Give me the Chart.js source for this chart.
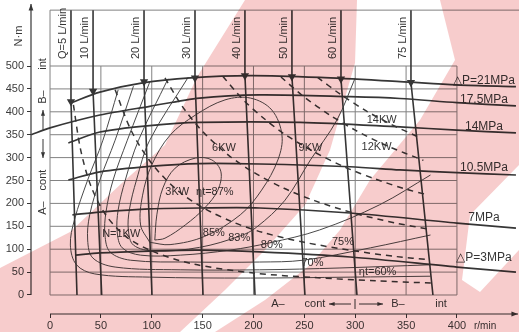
<!DOCTYPE html>
<html>
<head>
<meta charset="utf-8">
<title>Motor performance</title>
<script src="https://cdn.jsdelivr.net/npm/chart.js@4.4.1/dist/chart.umd.min.js"></script>
<style>
  html, body { margin: 0; padding: 0; background: #fff; }
</style>
</head>
<body>
<canvas id="perfChart" width="519" height="332"></canvas>
<script>
// axis ticks
const speedTicks = [0, 50, 100, 150, 200, 250, 300, 350, 400];
const torqueTicks = [0, 50, 100, 150, 200, 250, 300, 350, 400, 450, 500];

// pressure drop curves: [speed r/min, torque N·m]
const pressureNames = ['△P=21MPa', '17.5MPa', '14MPa', '10.5MPa', '7MPa', '△P=3MPa'];
const dp21 = [[20,419],[49,443],[91,463],[138,474],[197,479],[265,475],[344,466],[400,459],[458,455]];
const dp17_5 = [[-18.5,350],[0,365],[49,393],[98,412],[147,430],[206,437],[295,433],[344,429],[400,420],[458,413]];
const dp14 = [[18,332],[49,356],[98,370],[147,377],[246,377],[344,367],[400,360],[458,354]];
const dp10_5 = [[18,251],[49,269],[98,281],[147,287],[206,286],[295,280],[344,273],[400,267],[458,262]];
const dp7 = [[22,175],[49,181],[98,188],[147,190],[206,190],[295,179],[400,157],[458,146]];
const dp3 = [[25,87],[49,92],[98,96],[147,98],[206,94],[295,83],[400,61],[458,50]];

// flow lines
const flowNames = ['Q=5 L/min', '10 L/min', '20 L/min', '30 L/min', '40 L/min', '50 L/min', '60 L/min', '75 L/min'];
const flowTopSpeed = [20.6, 42.3, 92.4, 142.5, 191.6, 237.8, 286, 354.8];
const flowArrowTorque = [422, 445, 466, 474, 479, 477, 472, 464];
const flowBottomSpeed = [26.5, 50.8, 100.2, 150.4, 201.5, 250.6, 301.7, 376.4];

// output power (dashed)
const kw1 = [[23,415],[30,318],[40,239],[55,174],[75,127],[100,96],[140,68],[200,48],[260,38],[320,31],[375,26]];
const kw3 = [[64,448],[80,358],[100,287],[125,229],[150,191],[180,159],[210,136],[250,115],[300,96],[340,84],[373,77]];
const kw6 = [[113,474],[130,412],[150,357],[175,306],[200,268],[230,233],[260,206],[300,178],[340,157],[372,144]];
const kw9 = [[170,477],[190,426],[210,386],[230,352],[260,312],[290,279],[320,253],[350,231],[369,220]];
const kw12 = [[227,476],[250,432],[275,393],[300,360],[330,327],[367,294]];
const kw14 = [[263,475],[285,439],[310,403],[335,373],[362,345]];

// total efficiency contours
const eff60 = [[67,448],[52,338],[37,251],[24,164],[20,109],[26,66],[44,46],[98,39],[197,37],[295,39],[374,41]];
const eff70 = [[82,456],[64,338],[49,251],[39,175],[37,120],[42,81],[64,61],[128,55],[206,55],[285,59],[374,66]];
const eff75 = [[98,465],[76,338],[62,251],[55,181],[54,131],[59,94],[79,76],[138,72],[206,72],[249,76],[315,103],[374,131]];
const eff80 = [[116,472],[87,338],[74,251],[67,186],[66,138],[71,103],[89,87],[128,87],[177,98],[216,114],[265,142],[324,197],[374,262]];
const eff83 = [[136,476],[98,338],[85,251],[78,186],[77,142],[82,109],[103,96],[147,104],[187,129],[203,148],[231,207],[256,295],[282,382],[300,474]];
const eff85 = [[98,115],[89,153],[91,218],[100,284],[118,349],[143,393],[172,426],[197,430],[218,404],[228,349],[224,295],[208,229],[187,175],[152,128],[118,110],[98,115]];
const eff87 = [[103,120],[105,175],[111,234],[123,277],[143,299],[159,295],[168,269],[165,229],[152,190],[133,153],[113,124],[103,120]];

// text labels on the map: [text, speed, torque]
const effLabels = [['ηt=87%',162,225],['85%',161,135],['83%',186,124],['80%',218,109],['75%',288,116],['70%',258,70],['ηt=60%',322,50]];
const powerLabels = [['N=1KW',70,133],['3KW',125,225],['6KW',171,321],['9KW',256,321],['12KW',321,323],['14KW',326,382]];
const pressureLabelTorque = [469, 426, 367, 279, 168, 81];

const ink = '#363636';
const frameTop = 622, frameRight = 461;

// watermark shapes (canvas pixels), drawn as a tint
const watermark = [
  [[0,268],[70,232],[123,182],[165,145],[197,77],[245,0],[357,0],[355,63],[330,150],[305,205],[265,250],[225,290],[180,332],[0,332]],
  [[440,0],[519,0],[519,165],[470,215],[462,280],[480,292],[519,250],[519,332],[215,332],[265,300],[310,265],[340,230],[370,180],[420,120],[455,60]]
];

function pts(arr) { return arr.map(([x, y]) => ({ x, y })); }

function curve(arr, style) {
  return Object.assign({
    data: pts(arr), borderColor: ink, borderWidth: 1.5, pointRadius: 0,
    tension: 0.3, fill: false, clip: false
  }, style);
}

const datasets = [];

[dp21, dp17_5, dp14, dp10_5, dp7, dp3].forEach(c => datasets.push(curve(c, { borderWidth: 1.7 })));

flowTopSpeed.forEach((s, i) => {
  datasets.push(curve([[s, frameTop], [s, flowArrowTorque[i]], [flowBottomSpeed[i], 0]], {
    tension: 0, borderWidth: 1.6,
    pointStyle: 'triangle', pointRotation: 180,
    pointRadius: c => (c.dataIndex === 1 ? 3.2 : 0),
    pointBackgroundColor: ink, pointBorderColor: ink
  }));
});

[kw1, kw3, kw6, kw9, kw12, kw14].forEach(c => datasets.push(curve(c, { borderDash: [6, 5], borderWidth: 1.5 })));

[eff60, eff70, eff75, eff80, eff83, eff85, eff87].forEach(c => datasets.push(curve(c, { borderWidth: 1, borderColor: '#4a4a4a', tension: 0.35 })));

// grid + frame
const gridStyle = { borderColor: '#828282', borderWidth: 1, tension: 0, order: 10 };
torqueTicks.forEach(t => datasets.push(curve([[0, t], [400, t]], gridStyle)));
speedTicks.slice(1).forEach(s => datasets.push(curve([[s, 0], [s, 500]], gridStyle)));
datasets.push(curve([[0, 0], [0, frameTop]], gridStyle));
datasets.push(curve([[0, frameTop], [frameRight, frameTop]], gridStyle));

function rotText(ctx, text, x, y, align) {
  ctx.save();
  ctx.translate(x, y);
  ctx.rotate(-Math.PI / 2);
  ctx.textAlign = align || 'center';
  ctx.fillText(text, 0, 0);
  ctx.restore();
}

function arrow(ctx, x1, y1, x2, y2, size) {
  ctx.beginPath(); ctx.moveTo(x1, y1); ctx.lineTo(x2, y2); ctx.stroke();
  const a = Math.atan2(y2 - y1, x2 - x1);
  ctx.beginPath();
  ctx.moveTo(x2, y2);
  ctx.lineTo(x2 - size * Math.cos(a - 0.35), y2 - size * Math.sin(a - 0.35));
  ctx.lineTo(x2 - size * Math.cos(a + 0.35), y2 - size * Math.sin(a + 0.35));
  ctx.closePath(); ctx.fill();
}

const decor = {
  id: 'decor',
  beforeDraw(chart) {
    const ctx = chart.ctx;
    ctx.save(); ctx.fillStyle = '#fff'; ctx.fillRect(0, 0, chart.width, chart.height); ctx.restore();
  },
  afterDatasetsDraw(chart) {
    const { ctx, chartArea, scales: { x, y } } = chart;
    const X = v => x.getPixelForValue(v), Y = v => y.getPixelForValue(v);
    ctx.save();
    ctx.fillStyle = ink; ctx.strokeStyle = ink; ctx.lineWidth = 1.2;
    ctx.textBaseline = 'middle';

    // offset axes with arrows
    arrow(ctx, chartArea.left, Y(0), chartArea.left, 4, 7);
    arrow(ctx, X(0), chartArea.bottom, chart.width - 1, chartArea.bottom, 7);

    ctx.font = '11px "Liberation Sans", Arial, sans-serif';
    rotText(ctx, 'N·m', 19, 36);
    ctx.textAlign = 'left';
    ctx.font = '10px "Liberation Sans", Arial, sans-serif';
    ctx.fillText('r/min', 474, chartArea.bottom + 12);

    // flow labels
    ctx.font = '11px "Liberation Sans", Arial, sans-serif';
    flowNames.forEach((n, i) => rotText(ctx, n, X(flowTopSpeed[i]) - 8, Y(500) - 7, 'left'));

    // pressure labels
    ctx.font = '12px "Liberation Sans", Arial, sans-serif';
    ctx.textAlign = 'center';
    pressureNames.forEach((n, i) => ctx.fillText(n, 484, Y(pressureLabelTorque[i])));

    // efficiency & power labels
    ctx.font = '11px "Liberation Sans", Arial, sans-serif';
    effLabels.concat(powerLabels).forEach(([t, s, q]) => ctx.fillText(t, X(s), Y(q)));

    // operating ranges, bottom
    const by = chartArea.bottom - 10;
    ctx.fillText('A–', 278, by);
    ctx.fillText('cont', 315, by);
    ctx.fillText('B–', 398, by);
    ctx.fillText('int', 441, by);
    ctx.lineWidth = 1;
    arrow(ctx, 351, by, 329, by, 6);
    arrow(ctx, 359, by, 383, by, 6);
    ctx.beginPath(); ctx.moveTo(355, by - 5); ctx.lineTo(355, by + 5); ctx.stroke();

    // operating ranges, left side
    const lx = 43;
    rotText(ctx, 'int', lx, 64);
    rotText(ctx, 'B–', lx, 97);
    rotText(ctx, 'cont', lx, 180);
    rotText(ctx, 'A–', lx, 208);
    arrow(ctx, lx, 131, lx, 110, 6);
    arrow(ctx, lx, 139, lx, 158, 6);
    ctx.restore();
  },
  afterDraw(chart) {
    const ctx = chart.ctx;
    ctx.save();
    ctx.globalCompositeOperation = 'multiply';
    ctx.fillStyle = 'rgb(247,204,204)';
    watermark.forEach(poly => {
      ctx.beginPath();
      poly.forEach(([a, b], i) => (i ? ctx.lineTo(a, b) : ctx.moveTo(a, b)));
      ctx.closePath();
      ctx.fill();
    });
    ctx.restore();
  }
};

new Chart(document.getElementById('perfChart'), {
  type: 'line',
  data: { datasets },
  options: {
    responsive: false,
    animation: false,
    events: [],
    layout: { padding: { top: 10, right: 0, bottom: 0, left: 0 } },
    plugins: { legend: { display: false }, tooltip: { enabled: false } },
    scales: {
      x: {
        type: 'linear', min: -18.7, max: 461,
        afterBuildTicks: s => { s.ticks = speedTicks.map(v => ({ value: v })); },
        afterFit: s => { s.height = 18; },
        border: { display: false },
        grid: { drawOnChartArea: false, drawTicks: true, tickLength: 4, color: ink },
        ticks: { padding: 1, color: '#3c3c3c', font: { size: 11, family: '"Liberation Sans", Arial, sans-serif' } }
      },
      y: {
        type: 'linear', min: -41.5, max: 622.3,
        afterBuildTicks: s => { s.ticks = torqueTicks.map(v => ({ value: v })); },
        afterFit: s => { s.width = 31; },
        border: { display: false },
        grid: { drawOnChartArea: false, drawTicks: true, tickLength: 4, color: ink },
        ticks: { padding: 3, color: '#3c3c3c', font: { size: 11, family: '"Liberation Sans", Arial, sans-serif' } }
      }
    }
  },
  plugins: [decor]
});
</script>
</body>
</html>
